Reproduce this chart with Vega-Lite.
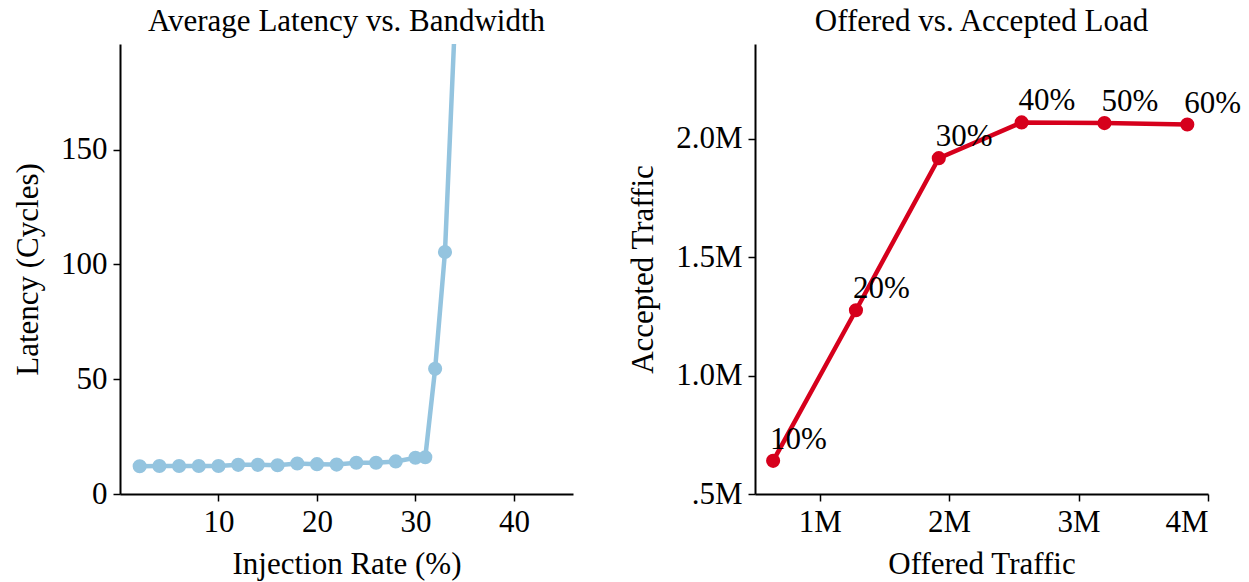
{
  "$schema": "https://vega.github.io/schema/vega-lite/v6.json",
  "padding": {"left": 12, "top": 6, "right": 5, "bottom": 5},
  "config": {
    "font": "Liberation Serif",
    "view": {"stroke": null},
    "axis": {"grid": false, "domainColor": "black", "domainWidth": 2, "tickColor": "black", "tickWidth": 1.5, "tickSize": 7, "labelFont": "Liberation Serif", "labelFontSize": 31, "labelColor": "black", "titleFont": "Liberation Serif", "titleFontSize": 31, "titleFontWeight": "normal", "titleColor": "black", "labelPadding": 6, "titlePadding": 12},
    "title": {"font": "Liberation Serif", "fontSize": 31, "fontWeight": "normal", "color": "black", "offset": 6},
    "concat": {"spacing": 54}
  },
  "hconcat": [
    {
      "title": "Average Latency vs. Bandwidth",
      "width": 453,
      "height": 450,
      "data": {"values": [
        {"rate": 2, "latency": 12.1},
        {"rate": 4, "latency": 12.2},
        {"rate": 6, "latency": 12.2},
        {"rate": 8, "latency": 12.2},
        {"rate": 10, "latency": 12.2},
        {"rate": 12, "latency": 12.7},
        {"rate": 14, "latency": 12.7},
        {"rate": 16, "latency": 12.5},
        {"rate": 18, "latency": 13.3},
        {"rate": 20, "latency": 13.0},
        {"rate": 22, "latency": 12.8},
        {"rate": 24, "latency": 13.6},
        {"rate": 26, "latency": 13.6},
        {"rate": 28, "latency": 14.2},
        {"rate": 30, "latency": 15.8},
        {"rate": 31, "latency": 16.0},
        {"rate": 32, "latency": 54.5},
        {"rate": 33, "latency": 105.4},
        {"rate": 34, "latency": 205}
      ]},
      "encoding": {
        "x": {"field": "rate", "type": "quantitative", "scale": {"domain": [0, 46], "nice": false}, "axis": {"values": [10, 20, 30, 40], "title": "Injection Rate (%)"}},
        "y": {"field": "latency", "type": "quantitative", "scale": {"domain": [0, 196], "nice": false}, "axis": {"values": [0, 50, 100, 150], "title": "Latency (Cycles)", "titlePadding": 16}}
      },
      "layer": [
        {"mark": {"type": "line", "color": "#94c4df", "strokeWidth": 4.5, "clip": true}},
        {"mark": {"type": "circle", "color": "#94c4df", "opacity": 1, "size": 200, "clip": true}}
      ]
    },
    {
      "title": "Offered vs. Accepted Load",
      "width": 453,
      "height": 450,
      "data": {"values": [
        {"offered": 640000, "accepted": 640000, "label": "10%"},
        {"offered": 1280000, "accepted": 1276000, "label": "20%"},
        {"offered": 1920000, "accepted": 1918000, "label": "30%"},
        {"offered": 2560000, "accepted": 2069000, "label": "40%"},
        {"offered": 3200000, "accepted": 2066000, "label": "50%"},
        {"offered": 3840000, "accepted": 2060000, "label": "60%"}
      ]},
      "encoding": {
        "x": {"field": "offered", "type": "quantitative", "scale": {"domain": [500000, 4000000], "nice": false}, "axis": {"values": [1000000, 2000000, 3000000, 4000000], "format": "~s", "title": "Offered Traffic"}},
        "y": {"field": "accepted", "type": "quantitative", "scale": {"domain": [500000, 2400000], "nice": false}, "axis": {"values": [500000, 1000000, 1500000, 2000000], "labelExpr": "datum.value == 500000 ? '.5M' : format(datum.value / 1000000, '.1f') + 'M'", "title": "Accepted Traffic", "titlePadding": 16}}
      },
      "layer": [
        {"mark": {"type": "line", "color": "#d6001c", "strokeWidth": 4.5}},
        {"mark": {"type": "circle", "color": "#d6001c", "opacity": 1, "size": 200}},
        {"mark": {"type": "text", "align": "left", "baseline": "alphabetic", "dx": -3, "dy": -12, "fontSize": 31, "font": "Liberation Serif", "color": "black"}, "encoding": {"text": {"field": "label"}}}
      ]
    }
  ]
}
